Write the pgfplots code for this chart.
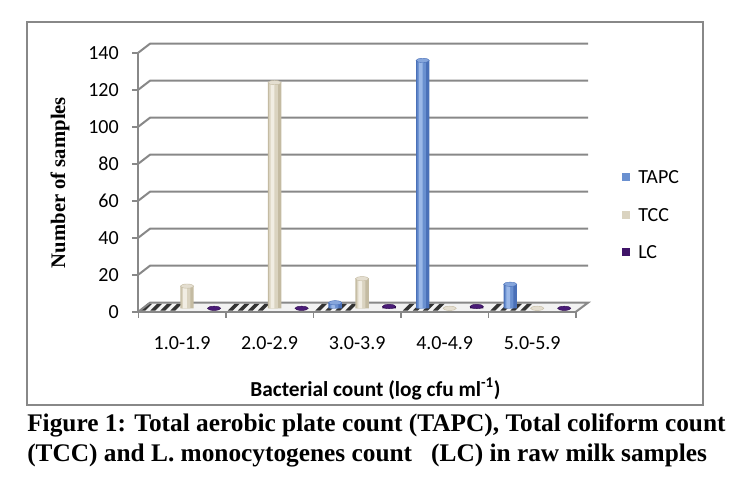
\documentclass[border=0pt]{standalone}
\usepackage{fontspec}
\setmainfont{Carlito}
\newfontfamily\serif{Liberation Serif}
\usepackage{pgfplots}
\pgfplotsset{compat=1.18}
\definecolor{gridgray}{HTML}{888888}
\definecolor{tapcD}{HTML}{4A70B8}
\definecolor{tapcM}{HTML}{6A90D0}
\definecolor{tapcL}{HTML}{9BB8E8}
\definecolor{tapcT}{HTML}{86A6DC}
\definecolor{tccD}{HTML}{C4BBA2}
\definecolor{tccM}{HTML}{DAD3C0}
\definecolor{tccL}{HTML}{F1EDE3}
\definecolor{tccT}{HTML}{E4DED0}
\definecolor{lcD}{HTML}{2C0A4C}
\definecolor{lcM}{HTML}{3F1468}
\definecolor{lcL}{HTML}{5A2C88}
\definecolor{lcT}{HTML}{4A1C78}
\begin{document}
\begin{tikzpicture}
\begin{scope}[x=0.75pt,y=-0.75pt,shift={(0pt,357pt)}]
\path (0,0) rectangle (745,476);
\draw[gridgray, line width=1.9pt] (27,22) rectangle (703,405);
% back-wall gridlines
\foreach \v in {20,40,...,140} {
  \pgfmathsetmacro\yf{311.7-1.85*\v}
  \draw[gridgray, line width=1.5pt] (138.3,\yf) -- (150,\yf-9) -- (588,\yf-9);
}
% floor
\fill[gray!10] (138.3,311.7) -- (576,311.7) -- (588,302.7) -- (150,302.7) -- cycle;
\foreach \b in {138.3,225.84,313.38,400.92,488.46} {
  \foreach \k in {2,12,22,32} {
    \fill[black!80] (\b+\k,310.5) -- (\b+\k+5,310.5) -- (\b+\k+12,303.5) -- (\b+\k+7,303.5) -- cycle;
  }
}
\draw[gridgray, line width=1.5pt] (138.3,311.7) -- (150,302.7) -- (588,302.7) -- (576,311.7);
% legend
\fill[tapcM] (622,173) rectangle (630,181);
\fill[tccM] (622,211) rectangle (630,219);
\fill[lcM] (622,248) rectangle (630,256);
\node[anchor=west, inner sep=0pt, font=\fontsize{15}{18}\selectfont] at (638,177) {TAPC};
\node[anchor=west, inner sep=0pt, font=\fontsize{15}{18}\selectfont] at (638,215) {TCC};
\node[anchor=west, inner sep=0pt, font=\fontsize{15}{18}\selectfont] at (638,252) {LC};
% caption
\node[anchor=base west, inner sep=0pt, font=\serif\bfseries\fontsize{19}{21}\selectfont] at (27,431.5) {Figure 1: Total aerobic plate count (TAPC), Total coliform count};
\node[anchor=base west, inner sep=0pt, font=\serif\bfseries\fontsize{19}{21}\selectfont] at (27,461.5) {(TCC) and L. monocytogenes count\ \ \ (LC) in raw milk samples};
\end{scope}
\begin{axis}[
  at={(103.725pt,123.225pt)}, anchor=south west,
  scale only axis, width=328.275pt, height=194.25pt,
  xmin=-0.5, xmax=4.5, ymin=0, ymax=140, clip=false,
  axis x line*=bottom, axis y line*=left,
  axis line style={gridgray, line width=1.5pt},
  tick style={gridgray, line width=1.2pt},
  tick align=outside, major tick length=4.5pt,
  ytick={0,20,...,140},
  xtick={-0.5,0.5,...,4.5},
  xticklabels={1.0-1.9,2.0-2.9,3.0-3.9,4.0-4.9,5.0-5.9,},
  xticklabel style={xshift=32.83pt, anchor=north, inner sep=0pt, yshift=-14pt},
  yticklabel style={anchor=east, inner sep=0pt, xshift=-10pt},
  /pgf/number format/assume math mode=true,
  ticklabel style={font=\fontsize{15}{18}\selectfont, text=black},
  ylabel={Number of samples},
  ylabel style={at={(-0.1789,0.4988)}, anchor=center, font=\serif\bfseries\fontsize{15.5}{18}\selectfont},
  xlabel={Bacterial count (log cfu ml\textsuperscript{-1})},
  xlabel style={at={(0.5419,-0.2985)}, anchor=center, font=\bfseries\fontsize{16}{18}\selectfont},
]
% TAPC
\addplot[ybar, bar width=10pt, bar shift=-16.5pt, draw=none, fill=tapcD, yshift=2.55pt]
  coordinates {(2,3) (3,134) (4,13)};
\addplot[ybar, bar width=6.5pt, bar shift=-17.3pt, draw=none, fill=tapcM, yshift=2.55pt, forget plot]
  coordinates {(2,3) (3,134) (4,13)};
\addplot[ybar, bar width=2.8pt, bar shift=-18pt, draw=none, fill=tapcL, yshift=2.55pt, forget plot]
  coordinates {(2,3) (3,134) (4,13)};
\addplot[only marks, mark=*, mark size=5pt, mark options={yscale=0.32, fill=tapcT, draw=tapcD, line width=0.3pt}, xshift=-16.5pt, yshift=2.55pt, forget plot]
  coordinates {(2,3) (3,134) (4,13)};
% TCC
\addplot[ybar, bar width=10pt, bar shift=3.75pt, draw=none, fill=tccD, yshift=2.55pt]
  coordinates {(0,12) (1,122) (2,16)};
\addplot[ybar, bar width=6.5pt, bar shift=2.95pt, draw=none, fill=tccM, yshift=2.55pt, forget plot]
  coordinates {(0,12) (1,122) (2,16)};
\addplot[ybar, bar width=2.8pt, bar shift=2.25pt, draw=none, fill=tccL, yshift=2.55pt, forget plot]
  coordinates {(0,12) (1,122) (2,16)};
\addplot[only marks, mark=*, mark size=5pt, mark options={yscale=0.32, fill=tccT, draw=tccD, line width=0.3pt}, xshift=3.75pt, yshift=2.55pt, forget plot]
  coordinates {(0,12) (1,122) (2,16) (3,0) (4,0)};
% LC
\addplot[ybar, bar width=10pt, bar shift=24pt, draw=none, fill=lcD, yshift=2.55pt]
  coordinates {(2,1) (3,1)};
\addplot[only marks, mark=*, mark size=5pt, mark options={yscale=0.32, fill=lcT, draw=lcD, line width=0.3pt}, xshift=24pt, yshift=2.55pt, forget plot]
  coordinates {(0,0) (1,0) (2,1) (3,1) (4,0)};
\end{axis}
\end{tikzpicture}
\end{document}
